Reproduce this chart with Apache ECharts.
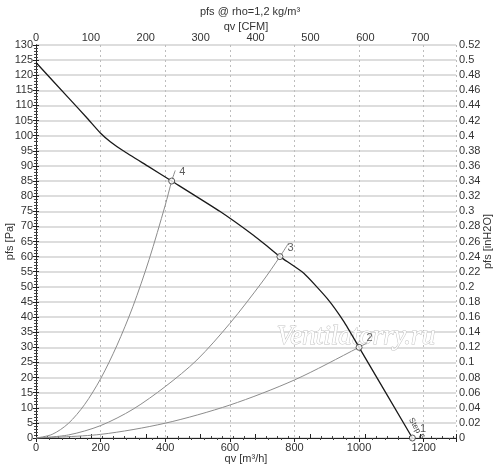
<!DOCTYPE html>
<html><head><meta charset="utf-8">
<script src="https://cdn.jsdelivr.net/npm/echarts@6/dist/echarts.min.js"></script>
<style>html,body{margin:0;padding:0;background:#fff}#c{width:500px;height:475px}</style>
</head><body><div id="c"></div>
<script>
// Fan curve pfs [Pa] vs qv [m3/h]
const fanCurve = [[0,124.2],[100,112.6],[160,105.6],[200,100.8],[230,98],[270,95],[345,90],[420,85],[570,74.9],[674,67],[715,63.5],[755,60],[829,54.5],[901,46.2],[953,38.5],[1000,30],[1165,0]];
// System curves through operating points
const sys4 = [[0,0],[50,1.2],[100,4.8],[150,11],[200,19.6],[250,30.5],[300,43.5],[350,59],[400,77],[420,85],[431,88.5]];
const sys3 = [[0,0],[100,1],[200,4.1],[300,9.5],[400,17],[498,25.8],[600,37.9],[700,51.6],[755,60],[782,64.5]];
const sys2 = [[0,0],[200,1.2],[400,4.9],[600,10.9],[800,19.2],[1000,30],[1025,31.5]];
// Operating points
const opPoints = [[420,85],[755,60],[1000,30],[1165,0]];
const opLabels = ['4','3','2','1'];
// Axes
const qvMax = 1300, pfsMax = 130;
const cfmPerM3h = 1/1.69901;
const inH2OMax = 0.52;

const font = '"Liberation Sans", Arial, sans-serif';
const txt = '#333';
const chart = echarts.init(document.getElementById('c'), null, {renderer:'canvas'});
const sysStyle = {type:'line', showSymbol:false, smooth:0.3, lineStyle:{color:'#8c8c8c', width:1}, z:3, silent:true};
chart.setOption({
  animation:false,
  backgroundColor:'#fff',
  textStyle:{fontFamily:font},
  title:{text:'pfs @ rho=1,2 kg/m³', left:'center', top:1, textStyle:{fontSize:11, fontWeight:'normal', color:txt, fontFamily:font}},
  grid:{left:36, right:44, top:45, bottom:37, containLabel:false, outerBoundsMode:'none'},
  xAxis:[{
    type:'value', position:'bottom', min:0, max:qvMax, interval:200,
    name:'qv [m³/h]', nameLocation:'middle', nameGap:15, nameMoveOverlap:false, nameTextStyle:{fontSize:11, color:txt, verticalAlign:'top'},
    axisLine:{lineStyle:{color:'#222'}},
    axisTick:{length:4, lineStyle:{color:'#222'}},
    minorTick:{show:true, splitNumber:5, length:2, lineStyle:{color:'#444'}},
    axisLabel:{fontSize:11, color:txt, margin:4, formatter:v=> v%200===0 ? String(v) : ''},
    splitLine:{show:true, lineStyle:{color:'#bdbdbd', type:[2,3], width:1}}
  },{
    type:'value', position:'top', min:0, max:qvMax*cfmPerM3h, interval:100,
    name:'qv [CFM]', nameLocation:'middle', nameGap:13, nameMoveOverlap:false, nameTextStyle:{fontSize:11, color:txt, verticalAlign:'bottom'},
    axisLine:{lineStyle:{color:'#222'}},
    axisTick:{length:4, lineStyle:{color:'#222'}},
    minorTick:{show:true, splitNumber:5, length:2, lineStyle:{color:'#444'}},
    axisLabel:{fontSize:11, color:txt, margin:2, formatter:v=> Math.abs(v%100)<1e-6 ? String(Math.round(v)) : ''},
    splitLine:{show:false}
  }],
  yAxis:[{
    type:'value', position:'left', min:0, max:pfsMax, interval:5,
    name:'pfs [Pa]', nameLocation:'middle', nameGap:21, nameMoveOverlap:false, nameTextStyle:{fontSize:11, color:txt},
    axisLine:{lineStyle:{color:'#222'}},
    axisTick:{length:3, lineStyle:{color:'#222'}},
    minorTick:{show:true, splitNumber:5, length:2, lineStyle:{color:'#444'}},
    axisLabel:{fontSize:11, color:txt, margin:3},
    splitLine:{show:true, lineStyle:{color:'#d2d2d2', width:1.6}}
  },{
    type:'value', position:'right', min:0, max:inH2OMax, interval:0.02,
    name:'pfs [inH2O]', nameLocation:'middle', nameGap:26, nameMoveOverlap:false, nameTextStyle:{fontSize:11, color:txt},
    axisLine:{lineStyle:{color:'#222'}},
    axisTick:{length:3, lineStyle:{color:'#222'}},
    minorTick:{show:true, splitNumber:5, length:2, lineStyle:{color:'#444'}},
    axisLabel:{fontSize:11, color:txt, margin:3, formatter:v=> String(parseFloat(v.toFixed(2)))},
    splitLine:{show:false}
  }],
  graphic:[{
    type:'text', z:1, silent:true,
    style:{text:'Ventilatorry.ru', x:356, y:337, align:'center', verticalAlign:'middle',
      font:'italic 27px "Liberation Serif", serif', fill:'#ffffff', stroke:'#c4c4c4', lineWidth:1}
  },{
    type:'text', z:10, silent:true, x:416.5, y:428.5, rotation:-1.05,
    style:{text:'Step 5', x:0, y:0, align:'center', verticalAlign:'middle', font:'8px "Liberation Sans", sans-serif', fill:'#444'}
  }],
  series:[
    Object.assign({data:sys4}, sysStyle),
    Object.assign({data:sys3}, sysStyle),
    Object.assign({data:sys2}, sysStyle),
    {type:'line', data:fanCurve, showSymbol:false, smooth:0.15, lineStyle:{color:'#1a1a1a', width:1.3}, z:5, silent:true},
    {type:'scatter', clip:false, z:6, silent:true,
     data:opPoints.map((p,i)=>({value:p, name:opLabels[i]})),
     symbol:'circle', symbolSize:6,
     itemStyle:{color:'#fff', borderColor:'#333', borderWidth:1},
     label:{show:true, formatter:'{b}', position:'right', distance:4, offset:[0,-9], fontSize:11, color:txt}}
  ]
});
</script></body></html>
